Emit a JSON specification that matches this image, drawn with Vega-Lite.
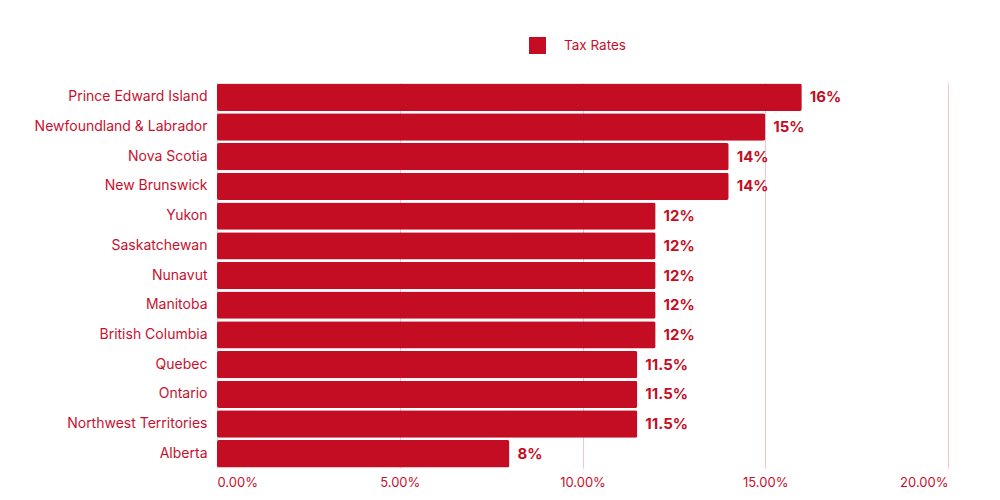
{
  "$schema": "https://vega.github.io/schema/vega-lite/v6.json",
  "width": 731,
  "height": 385,
  "autosize": {"type": "none"},
  "padding": {"left": 217, "top": 83, "right": 52, "bottom": 32},
  "background": "white",
  "config": {
    "font": "Inter",
    "view": {"stroke": null},
    "axis": {"labelColor": "#C8102E", "labelFont": "Inter", "labelFontSize": 13, "ticks": false, "domain": false, "title": null}
  },
  "data": {
    "values": [
      {"province": "Prince Edward Island", "rate": 0.16, "series": "Tax Rates"},
      {"province": "Newfoundland & Labrador", "rate": 0.15, "series": "Tax Rates"},
      {"province": "Nova Scotia", "rate": 0.14, "series": "Tax Rates"},
      {"province": "New Brunswick", "rate": 0.14, "series": "Tax Rates"},
      {"province": "Yukon", "rate": 0.12, "series": "Tax Rates"},
      {"province": "Saskatchewan", "rate": 0.12, "series": "Tax Rates"},
      {"province": "Nunavut", "rate": 0.12, "series": "Tax Rates"},
      {"province": "Manitoba", "rate": 0.12, "series": "Tax Rates"},
      {"province": "British Columbia", "rate": 0.12, "series": "Tax Rates"},
      {"province": "Quebec", "rate": 0.115, "series": "Tax Rates"},
      {"province": "Ontario", "rate": 0.115, "series": "Tax Rates"},
      {"province": "Northwest Territories", "rate": 0.115, "series": "Tax Rates"},
      {"province": "Alberta", "rate": 0.08, "series": "Tax Rates"}
    ]
  },
  "encoding": {
    "y": {"field": "province", "type": "nominal", "sort": null, "scale": {"paddingInner": 0.08, "paddingOuter": 0.02}, "axis": {"labelPadding": 10, "labelFontSize": 14}},
    "x": {"field": "rate", "type": "quantitative", "scale": {"domain": [0, 0.2]}, "axis": {"values": [0, 0.05, 0.1, 0.15, 0.2], "format": ".2%", "labelPadding": 8, "grid": true, "gridColor": "#F5C4CB", "gridOpacity": 1, "zindex": 0}}
  },
  "layer": [
    {
      "mark": {"type": "bar", "cornerRadius": 2, "color": "#C40D23"},
      "encoding": {
        "color": {"field": "series", "type": "nominal", "scale": {"range": ["#C40D23"]}, "legend": {"title": null, "orient": "none", "legendX": 311, "legendY": -47, "symbolType": "square", "symbolSize": 289, "symbolOpacity": 1, "labelColor": "#C8102E", "labelFontSize": 13.5, "labelFont": "Inter", "labelOffset": 17}}
      }
    },
    {
      "mark": {"type": "text", "align": "left", "dx": 8, "fontWeight": "bold", "fontSize": 15, "color": "#C40D23"},
      "encoding": {"text": {"field": "rate", "type": "quantitative", "format": ".3~%"}}
    }
  ]
}
